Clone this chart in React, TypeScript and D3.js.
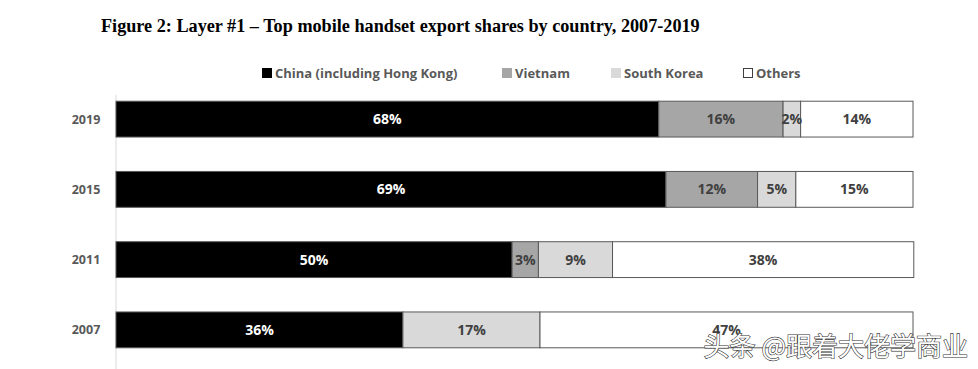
import React from "react";
import * as d3 from "d3";

const years = ["2019", "2015", "2011", "2007"];
const seriesNames = ["China (including Hong Kong)", "Vietnam", "South Korea", "Others"];
const china = [68.1, 69.0, 49.7, 36.0];
const vietnam = [15.6, 11.5, 3.3, 0];
const southKorea = [2.2, 4.8, 9.3, 17.2];
const others = [14.1, 14.7, 37.8, 46.8];
const labelsChina = ["68%", "69%", "50%", "36%"];
const labelsVietnam = ["16%", "12%", "3%", ""];
const labelsKorea = ["2%", "5%", "9%", "17%"];
const labelsOthers = ["14%", "15%", "38%", "47%"];

const colors = ["#000000", "#a6a6a6", "#d9d9d9", "#ffffff"];
const textColors = ["#ffffff", "#404040", "#404040", "#404040"];

export default function App() {
  const W = 978, H = 369;
  const x = d3.scaleLinear().domain([0, 100]).range([116, 913]);
  const y = d3.scaleBand().domain(years).range([84, 365]).paddingInner(0.49).paddingOuter(0.245);
  const series = [china, vietnam, southKorea, others];
  const labels = [labelsChina, labelsVietnam, labelsKorea, labelsOthers];
  const font = "'Open Sans', 'Noto Sans', sans-serif";

  const legendX = [262, 502, 611, 743];

  return (
    <svg width={W} height={H} style={{ position: "absolute", left: 0, top: 0, background: "#fff" }}>
      <text x={101} y={32} fontFamily="'Liberation Serif', 'Times New Roman', serif" fontWeight="bold" fontSize={18.2} fill="#000">
        Figure 2: Layer #1 – Top mobile handset export shares by country, 2007-2019
      </text>
      {seriesNames.map((n, i) => (
        <g key={n}>
          <rect x={legendX[i] + 0.5} y={68.5} width={9} height={9} fill={colors[i]} stroke={i === 3 ? "#404040" : colors[i]} />
          <text x={legendX[i] + 13} y={78} fontFamily={font} fontWeight="bold" fontSize={13} fill="#595959">
            {n}
          </text>
        </g>
      ))}
      <line x1={116} x2={116} y1={95} y2={369} stroke="#d9d9d9" strokeWidth={1} />
      {years.map((yr, j) => {
        let acc = 0;
        const by = y(yr)!;
        const bh = y.bandwidth();
        return (
          <g key={yr}>
            <text x={86} y={by + bh / 2 + 4.5} textAnchor="middle" fontFamily={font} fontWeight="bold" fontSize={12.5} fill="#595959">
              {yr}
            </text>
            {series.map((s, i) => {
              const v = s[j];
              const x0 = x(acc);
              acc += v;
              const x1 = x(acc);
              if (v <= 0) return null;
              return (
                <rect key={i} x={x0} y={by} width={x1 - x0} height={bh} fill={colors[i]} stroke="#595959" strokeWidth={1} />
              );
            })}
            {(() => {
              let a2 = 0;
              return series.map((s, i) => {
                const v = s[j];
                const cx = x(a2 + v / 2);
                a2 += v;
                if (!labels[i][j]) return null;
                return (
                  <text key={"l" + i} x={cx} y={by + bh / 2 + 5} textAnchor="middle" fontFamily={font} fontWeight="bold" fontSize={14} fill={textColors[i]}>
                    {labels[i][j]}
                  </text>
                );
              });
            })()}
          </g>
        );
      })}
      <text x={968} y={356} textAnchor="end" fontFamily="'Noto Sans CJK SC', sans-serif" fontSize={26} fill="#ffffff" stroke="#333333" strokeWidth={1.2} paintOrder="stroke">
        头条 @跟着大佬学商业
      </text>
    </svg>
  );
}
